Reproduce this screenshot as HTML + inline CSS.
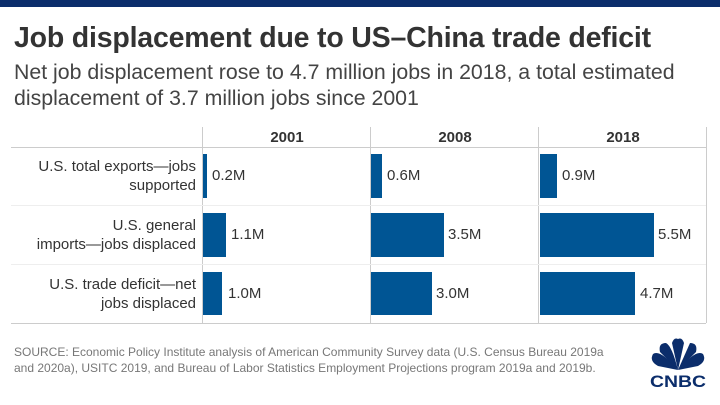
<!DOCTYPE html>
<html><head><style>
body{margin:0;width:720px;height:405px;background:#fff;font-family:"Liberation Sans",sans-serif;position:relative;overflow:hidden}
.a{position:absolute}
.bar{position:absolute;background:#005594}
.v{position:absolute;font-size:15px;color:#333}
.lab{position:absolute;right:524px;text-align:right;font-size:15px;color:#333;line-height:19px}
.vl{position:absolute;top:127px;width:1px;height:196px;background:#ccc}
.hl{position:absolute;left:11px;width:695px;height:1px;background:#ddd}
.yr{position:absolute;top:129px;font-size:15px;font-weight:bold;color:#333;width:168px;text-align:center}
</style></head><body>
<div class="a" style="left:0;top:0;width:720px;height:7px;background:#0b2d6b"></div>
<div class="a" style="left:14px;top:22px;font-size:28.5px;font-weight:bold;color:#333;letter-spacing:-0.2px">Job displacement due to US–China trade deficit</div>
<div class="a" style="left:14px;top:59px;font-size:21.3px;color:#444;line-height:26px">Net job displacement rose to 4.7 million jobs in 2018, a total estimated<br>displacement of 3.7 million jobs since 2001</div>
<div class="vl" style="left:202px"></div><div class="vl" style="left:370px"></div><div class="vl" style="left:538px"></div><div class="vl" style="left:706px"></div>
<div class="hl" style="top:147px;background:#ccc"></div>
<div class="hl" style="top:205px;background:#eee"></div>
<div class="hl" style="top:264px;background:#eee"></div>
<div class="hl" style="top:323px;background:#ccc"></div>
<div class="yr" style="left:203px">2001</div><div class="yr" style="left:371px">2008</div><div class="yr" style="left:539px">2018</div>
<div class="lab" style="top:157px">U.S. total exports—jobs<br>supported</div>
<div class="lab" style="top:216px">U.S. general<br>imports—jobs displaced</div>
<div class="lab" style="top:275px">U.S. trade deficit—net<br>jobs displaced</div>
<div class="bar" style="left:203px;top:154px;width:4px;height:44px"></div><div class="v" style="left:212px;top:167px">0.2M</div>
<div class="bar" style="left:203px;top:213px;width:23px;height:44px"></div><div class="v" style="left:231px;top:226px">1.1M</div>
<div class="bar" style="left:203px;top:272px;width:19px;height:43px"></div><div class="v" style="left:228px;top:285px">1.0M</div>
<div class="bar" style="left:371px;top:154px;width:11px;height:44px"></div><div class="v" style="left:387px;top:167px">0.6M</div>
<div class="bar" style="left:371px;top:213px;width:73px;height:44px"></div><div class="v" style="left:448px;top:226px">3.5M</div>
<div class="bar" style="left:371px;top:272px;width:61px;height:43px"></div><div class="v" style="left:436px;top:285px">3.0M</div>
<div class="bar" style="left:540px;top:154px;width:17px;height:44px"></div><div class="v" style="left:562px;top:167px">0.9M</div>
<div class="bar" style="left:540px;top:213px;width:114px;height:44px"></div><div class="v" style="left:658px;top:226px">5.5M</div>
<div class="bar" style="left:540px;top:272px;width:95px;height:43px"></div><div class="v" style="left:640px;top:285px">4.7M</div>
<div class="a" style="left:14px;top:344px;font-size:12px;color:#777;line-height:16px">SOURCE: Economic Policy Institute analysis of American Community Survey data (U.S. Census Bureau 2019a<br>and 2020a), USITC 2019, and Bureau of Labor Statistics Employment Projections program 2019a and 2019b.</div>
<svg class="a" style="left:648px;top:338px" width="60" height="50" viewBox="0 0 60 50">
<g fill="#0b2d6b">
<path d="M30 32 L10 28 Q1 23 5 16 Q12 11 30 32Z"/>
<path d="M30 32 L12 14 Q10 5 18 5 Q24 8 30 32Z"/>
<path d="M30 32 L24 5 Q26 -1 30 1 Q34 -1 36 5Z"/>
<path d="M30 32 L42 5 Q50 5 48 14Z"/>
<path d="M30 32 Q48 11 55 16 Q59 23 50 28Z"/>
</g>
<text x="30" y="49" text-anchor="middle" font-family="Liberation Sans" font-weight="bold" font-size="17" fill="#0b2d6b" textLength="56" lengthAdjust="spacingAndGlyphs">CNBC</text>
</svg>
</body></html>
